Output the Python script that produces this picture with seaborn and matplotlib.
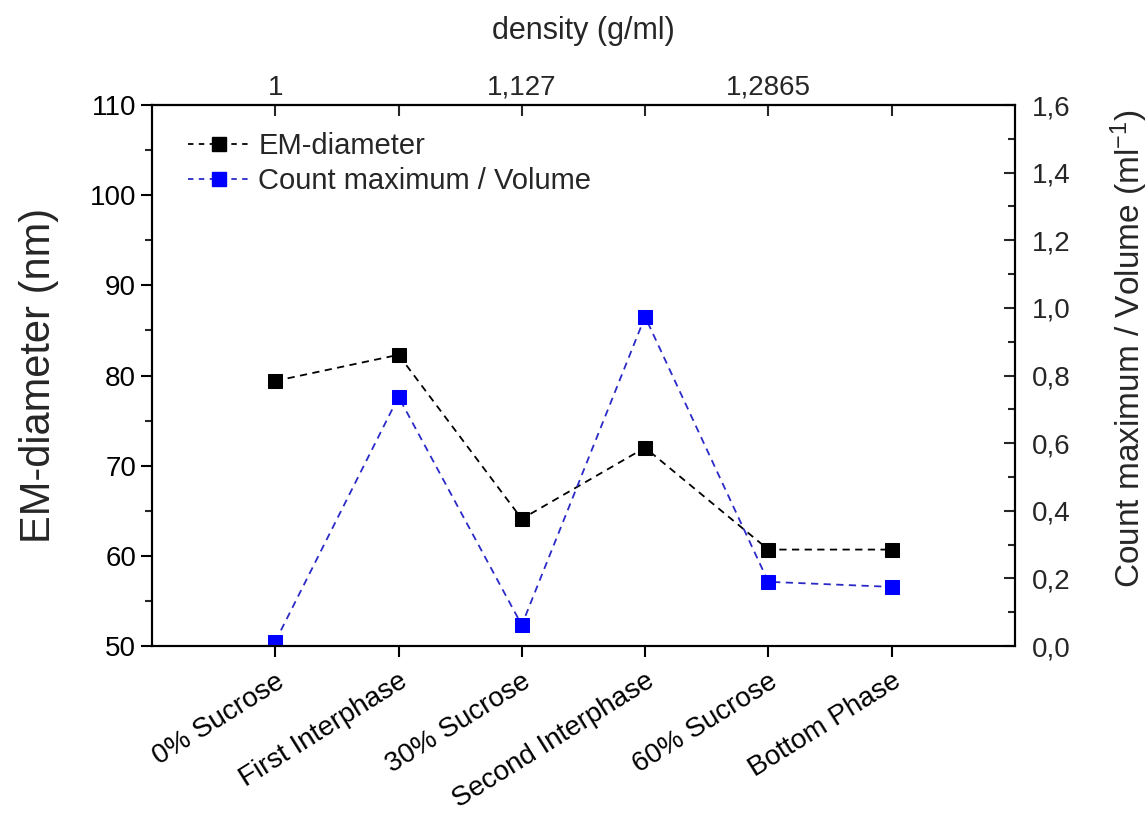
import pandas as pd
import matplotlib.pyplot as plt
import seaborn as sns
from matplotlib.ticker import MultipleLocator, FixedLocator
from matplotlib.lines import Line2D

# datos
fases = ['0% Sucrose', 'First Interphase', '30% Sucrose',
         'Second Interphase', '60% Sucrose', 'Bottom Phase']
em_diametro = [79.4, 82.3, 64.1, 72.0, 60.7, 60.7]
count_volumen = [0.013, 0.737, 0.062, 0.974, 0.190, 0.175]
densidad_etiquetas = ['1', '', '1,127', '', '1,2865', '']

df = pd.DataFrame({'fase': fases, 'em': em_diametro, 'count': count_volumen})

sns.set_style('ticks')
plt.rcParams['font.family'] = ['Liberation Sans', 'DejaVu Sans']
plt.rcParams['mathtext.fontset'] = 'custom'
plt.rcParams['mathtext.rm'] = 'Liberation Sans'
plt.rcParams['mathtext.it'] = 'Liberation Sans:italic'

fig = plt.figure(figsize=(11.48, 8.23), dpi=100)
ax = fig.add_axes([0.1324, 0.215, 0.7516, 0.6574])

dash = (4, 3)
sns.lineplot(data=df, x='fase', y='em', ax=ax, color='black', marker='s',
             markersize=10, markeredgecolor='black', linewidth=1.3,
             sort=False)
ax.lines[0].set_dashes(dash)

ax2 = ax.twinx()
sns.lineplot(data=df, x='fase', y='count', ax=ax2, color='#0000ff', marker='s',
             markersize=10, markeredgecolor='#0000ff', linewidth=1.3,
             sort=False)
ax2.lines[0].set_dashes(dash)
ax2.lines[0].set_color('#2a2ac8')
ax2.lines[0].set_markerfacecolor('#0000ff')
ax2.lines[0].set_markeredgecolor('#0000ff')

# ejes
ax.set_xlim(-1, 6)
ax.set_ylim(50, 110)
ax.yaxis.set_major_locator(MultipleLocator(10))
ax.yaxis.set_minor_locator(MultipleLocator(5))
ticks_der = [0.0, 0.2, 0.4, 0.6, 0.8, 1.0, 1.2, 1.4, 1.6]
ax2.set_yticks(ticks_der)
ax2.set_yticklabels([f'{v:.1f}'.replace('.', ',') for v in ticks_der])
ax2.yaxis.set_minor_locator(MultipleLocator(0.1))
ax2.set_ylim(0, 1.6)

ax.set_xticks(range(len(fases)))
ax.set_xticklabels(fases, rotation=32, ha='right', rotation_mode='anchor',
                   fontsize=20)
ax.set_xlabel('')
ax.set_ylabel('EM-diameter (nm)', fontsize=30, labelpad=22)
ax2.set_ylabel('Count maximum / Volume (ml$^{-1}$)', fontsize=24)
ax2.yaxis.set_label_coords(1.108, 0.55)

for spine in ['left', 'right', 'top', 'bottom']:
    ax.spines[spine].set_visible(True)
    ax.spines[spine].set_linewidth(1.5)
    ax.spines[spine].set_color('black')
    ax2.spines[spine].set_linewidth(1.5)
    ax2.spines[spine].set_color('black')

ax.tick_params(axis='y', which='major', labelsize=20, length=8, width=1.5,
               direction='out', colors='black')
ax.tick_params(axis='x', which='major', length=8, width=1.5,
               direction='out', colors='black', pad=8)
ax.tick_params(axis='y', which='minor', length=5, width=1.5, direction='out')
ax2.tick_params(axis='y', which='major', labelsize=20, length=8, width=1.5,
                direction='in', pad=12)
ax2.tick_params(axis='y', which='minor', length=5, width=1.5, direction='in')

# eje superior de densidad
top = ax.secondary_xaxis('top')
top.xaxis.set_major_locator(FixedLocator(range(len(fases))))
top.set_xticklabels(densidad_etiquetas)
top.tick_params(axis='x', labelsize=20, length=8, width=1.5, direction='in',
                pad=3)
top.set_xlabel('density (g/ml)', fontsize=22, labelpad=26)
top.spines['top'].set_linewidth(1.5)

# leyenda
handles = [
    Line2D([], [], color='black', marker='s', markersize=10, linewidth=1.3,
           dashes=(3, 3)),
    Line2D([], [], color='#2a2ac8', marker='s', markersize=10, linewidth=1.3,
           markerfacecolor='#0000ff', markeredgecolor='#0000ff', dashes=(3, 3)),
]
ax.legend(handles, ['EM-diameter', 'Count maximum / Volume'], loc='upper left',
          bbox_to_anchor=(0.042, 0.95), frameon=False, fontsize=21,
          borderaxespad=0, borderpad=0,
          handlelength=2.1, handletextpad=0.3, labelspacing=0.25)

plt.savefig('out.png', dpi=100)
